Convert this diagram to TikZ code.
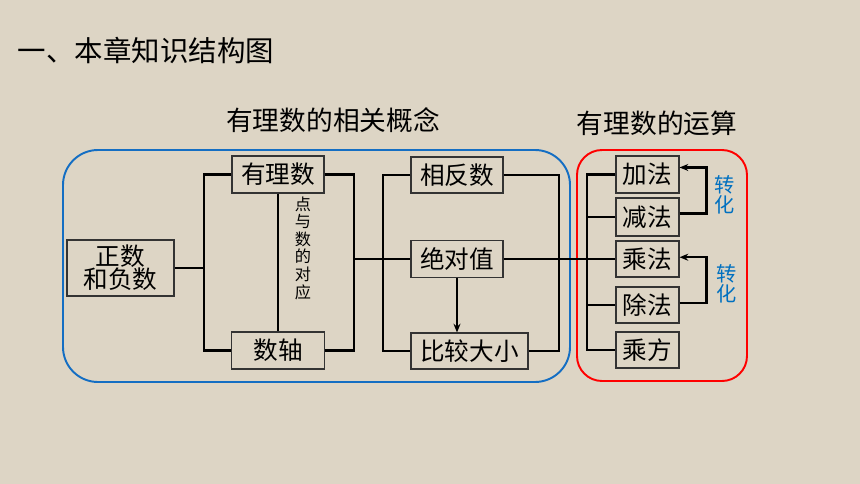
\documentclass[tikz,border=0pt]{standalone}
\usepackage{fontspec}
\setmainfont{Noto Sans CJK SC}
\usetikzlibrary{arrows.meta}
\definecolor{paper}{RGB}{221,213,197}
\definecolor{ringblue}{RGB}{20,110,195}
\definecolor{noteblue}{RGB}{0,112,192}
\begin{document}
\begin{tikzpicture}[x=0.02cm,y=-0.02cm,
  box/.style={draw=black!80,line width=0.6pt,inner sep=0pt,
    font=\fontsize{14}{13.2}\selectfont},
  link/.style={line width=1.2pt,black},
  turn/.style={link,-{Stealth[length=5pt,width=4pt]}}]
  %%%%%%%%%%%%%background and titles%%%%%%%%%%%%%%%%%%%%%%
  \fill[paper] (0,0) rectangle (860,484);
  \useasboundingbox (0,0) rectangle (860,484);
  \node (title) at (146,50) {\fontsize{16.2}{16.2}\selectfont 一、本章知识结构图};
  \node (gainian) at (333,120) {\fontsize{15.2}{15.2}\selectfont 有理数的相关概念};
  \node (yunsuan) at (657,123) {\fontsize{15.2}{15.2}\selectfont 有理数的运算};
  \draw[ringblue,line width=1.1pt,rounded corners=0.7cm] (63,150) rectangle (570,382);
  \draw[red,line width=1.1pt,rounded corners=0.5cm] (577,150) rectangle (747,381);

  %%%%%%%%%%%%%concepts%%%%%%%%%%%%%%%%%%%%%%
  \node[box,minimum width=2.14cm,minimum height=1.12cm,align=center] (zf) at (120.5,268)
    {正数\\和负数};
  \node[box,minimum width=1.84cm,minimum height=0.74cm] (yls) at (278,174.5) {有理数};
  \node[box,minimum width=1.86cm,minimum height=0.74cm] (sz) at (278,350.5) {数轴};
  \node[align=center,inner sep=0pt,font=\fontsize{9.2}{10}\selectfont] (dui) at (303,248)
    {点\\与\\数\\的\\对\\应};
  \node[box,minimum width=1.84cm,minimum height=0.72cm] (xfs) at (457,175) {相反数};
  \node[box,minimum width=1.84cm,minimum height=0.74cm] (jdz) at (457,259) {绝对值};
  \node[box,minimum width=2.34cm,minimum height=0.72cm] (bj) at (469.5,351) {比较大小};

  \coordinate (lb) at (204,268);
  \coordinate (rb) at (354,259);
  \coordinate (mb) at (383,259);
  \coordinate (rc) at (559,259);
  \draw[link] (zf.east) -- (lb);
  \draw[link] (yls.west) -| (lb) |- (sz.west);
  \draw[link] (yls.south) -- (sz.north);
  \draw[link] (yls.east) -| (rb) |- (sz.east);
  \draw[link] (rb) -- (jdz.west);
  \draw[link] (xfs.west) -| (mb) |- (bj.west);
  \draw[link] (xfs.east) -| (rc) |- (bj.east);
  \draw[turn] (jdz.south) -- (jdz.south |- bj.north);

  %%%%%%%%%%%%%operations%%%%%%%%%%%%%%%%%%%%%%
  \node[box,minimum width=1.26cm,minimum height=0.74cm] (jia) at (647.5,174.5) {加法};
  \node[box,minimum width=1.26cm,minimum height=0.76cm] (jian) at (647.5,217) {减法};
  \node[box,minimum width=1.26cm,minimum height=0.72cm] (cheng) at (647.5,259) {乘法};
  \node[box,minimum width=1.26cm,minimum height=0.72cm] (chu) at (647.5,305) {除法};
  \node[box,minimum width=1.26cm,minimum height=0.72cm] (cf) at (647.5,350) {乘方};

  \coordinate (ob) at (587,259);
  \draw[link] (jdz.east) -- (cheng.west);
  \draw[link] (jia.west) -| (ob) |- (cf.west);
  \draw[link] (ob |- jian.west) -- (jian.west);
  \draw[link] (ob |- chu.west) -- (chu.west);
  \draw[turn] ([yshift=2pt]jian.east) -- ++(27,0) |- ([yshift=4pt]jia.east);
  \draw[turn] ([yshift=1pt]chu.east) -- ++(27,0) |- ([yshift=1pt]cheng.east);
  \node[noteblue,align=center,inner sep=0pt,font=\fontsize{11.5}{11.5}\selectfont] (zh1)
    at (725,195) {转\\化};
  \node[noteblue,align=center,inner sep=0pt,font=\fontsize{11.5}{11.5}\selectfont] (zh2)
    at (727,284) {转\\化};
\end{tikzpicture}
\end{document}
